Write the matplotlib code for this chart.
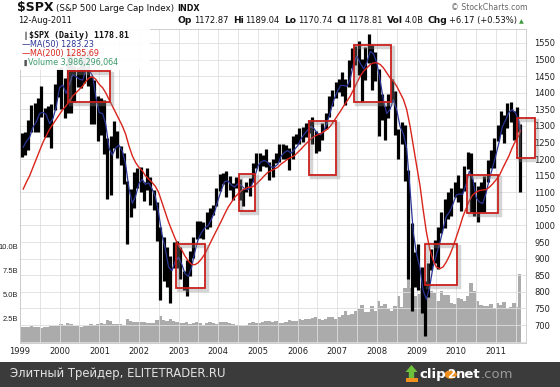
import numpy as np
import pandas as pd
import matplotlib
matplotlib.use('Agg')
import matplotlib.pyplot as plt
import matplotlib.dates as mdates
from matplotlib.patches import Rectangle, Polygon, Circle
import matplotlib.patheffects as pe

# ---------------- data (monthly) ----------------
months = pd.date_range('1999-01-01', '2011-08-01', freq='MS')

high = [1280, 1283, 1317, 1362, 1368, 1383, 1421, 1353, 1361, 1365, 1425, 1475,
        1478, 1444, 1553, 1527, 1481, 1478, 1518, 1525, 1530, 1450, 1439, 1390,
        1384, 1377, 1263, 1269, 1316, 1286, 1239, 1218, 1134, 1111, 1160, 1174,
        1176, 1131, 1173, 1147, 1107, 1070, 994, 965, 935, 907, 951, 954,
        935, 864, 895, 924, 965, 1015, 1015, 1011, 1040, 1053, 1063, 1112,
        1155, 1159, 1163, 1150, 1128, 1146, 1141, 1110, 1132, 1142, 1188, 1217,
        1217, 1212, 1229, 1191, 1199, 1219, 1246, 1245, 1243, 1233, 1270, 1275,
        1295, 1297, 1310, 1318, 1326, 1284, 1280, 1310, 1340, 1390, 1407, 1431,
        1441, 1461, 1440, 1498, 1535, 1540, 1556, 1503, 1538, 1576, 1545, 1523,
        1471, 1396, 1359, 1397, 1440, 1404, 1292, 1313, 1304, 1167, 1007, 919,
        943, 876, 832, 888, 930, 957, 996, 1040, 1080, 1102, 1113, 1130,
        1151, 1112, 1180, 1220, 1219, 1131, 1120, 1130, 1148, 1196, 1228, 1263,
        1302, 1344, 1333, 1370, 1371, 1346, 1356, 1307]

low = [1205, 1212, 1226, 1282, 1282, 1282, 1327, 1268, 1268, 1233, 1348, 1388,
       1350, 1325, 1339, 1340, 1373, 1418, 1414, 1430, 1419, 1305, 1306, 1254,
       1274, 1215, 1081, 1091, 1232, 1203, 1183, 1124, 945, 1026, 1054, 1114,
       1101, 1074, 1106, 1063, 1048, 952, 775, 833, 815, 768, 872, 872,
       840, 806, 789, 847, 902, 960, 962, 960, 990, 995, 1031, 1060,
       1105, 1124, 1087, 1107, 1076, 1113, 1078, 1060, 1101, 1090, 1130, 1173,
       1163, 1180, 1176, 1136, 1146, 1188, 1190, 1201, 1201, 1168, 1201, 1246,
       1245, 1253, 1268, 1280, 1245, 1219, 1224, 1259, 1290, 1327, 1360, 1385,
       1403, 1389, 1363, 1416, 1476, 1484, 1454, 1371, 1439, 1490, 1407, 1435,
       1270, 1317, 1257, 1324, 1373, 1273, 1200, 1247, 1133, 840, 741, 815,
       805, 735, 667, 784, 866, 888, 869, 978, 992, 1020, 1029, 1086,
       1071, 1045, 1105, 1170, 1041, 1028, 1011, 1040, 1040, 1131, 1174, 1173,
       1256, 1276, 1249, 1295, 1311, 1258, 1283, 1101]

ma50 = [1236, 1253, 1266, 1296, 1312, 1337, 1341, 1334, 1307, 1322, 1357, 1416,
        1423, 1398, 1425, 1454, 1449, 1441, 1438, 1470, 1468, 1450, 1385, 1340,
        1337, 1306, 1233, 1212, 1234, 1242, 1225, 1183, 1112, 1067, 1088, 1127,
        1139, 1124, 1128, 1111, 1087, 1038, 974, 929, 875, 864, 892, 904,
        882, 855, 847, 874, 922, 959, 979, 994, 1000, 1020, 1043, 1078,
        1109, 1133, 1134, 1122, 1116, 1126, 1121, 1110, 1108, 1119, 1144, 1180,
        1192, 1196, 1190, 1176, 1176, 1184, 1208, 1220, 1226, 1218, 1228, 1240,
        1261, 1274, 1286, 1298, 1292, 1278, 1273, 1286, 1311, 1346, 1379, 1403,
        1422, 1422, 1419, 1442, 1489, 1510, 1489, 1472, 1491, 1525, 1517, 1489,
        1435, 1378, 1337, 1350, 1379, 1349, 1299, 1276, 1233, 1110, 979, 913,
        871, 805, 778, 815, 876, 910, 946, 987, 1028, 1041, 1064, 1092,
        1095, 1094, 1124, 1163, 1144, 1085, 1071, 1066, 1096, 1139, 1174, 1212,
        1254, 1297, 1318, 1341, 1349, 1339, 1314, 1283]

ma200 = [1110, 1130, 1150, 1175, 1200, 1225, 1250, 1270, 1290, 1305, 1320, 1335,
         1350, 1360, 1375, 1390, 1400, 1410, 1420, 1435, 1445, 1448, 1440, 1425,
         1415, 1400, 1380, 1360, 1340, 1320, 1300, 1275, 1240, 1210, 1190, 1175,
         1165, 1150, 1140, 1130, 1118, 1100, 1070, 1040, 1010, 985, 960, 940,
         925, 908, 893, 883, 882, 888, 900, 915, 935, 955, 975, 995,
         1015, 1035, 1055, 1070, 1085, 1095, 1105, 1110, 1115, 1115, 1120, 1130,
         1140, 1150, 1160, 1165, 1170, 1175, 1185, 1192, 1200, 1205, 1210, 1220,
         1230, 1240, 1250, 1260, 1268, 1273, 1277, 1283, 1290, 1300, 1315, 1330,
         1345, 1360, 1375, 1390, 1410, 1430, 1450, 1465, 1475, 1485, 1490, 1490,
         1485, 1475, 1460, 1445, 1435, 1420, 1400, 1380, 1350, 1300, 1240, 1180,
         1120, 1050, 980, 930, 895, 875, 870, 875, 890, 910, 935, 965,
         995, 1025, 1050, 1075, 1092, 1100, 1105, 1107, 1108, 1115, 1125, 1137,
         1150, 1170, 1190, 1210, 1235, 1255, 1272, 1286]

vol_b = [1.70, 1.65, 1.70, 1.80, 1.70, 1.65, 1.60, 1.65, 1.70, 1.80, 1.75, 1.80,
         1.95, 1.90, 2.05, 1.95, 1.80, 1.75, 1.70, 1.75, 1.80, 1.95, 1.85, 1.95,
         2.05, 2.00, 2.35, 2.25, 2.00, 1.95, 1.95, 1.90, 2.45, 2.25, 2.20, 2.20,
         2.20, 2.15, 2.10, 2.10, 2.10, 2.35, 2.80, 2.35, 2.30, 2.50, 2.25, 2.15,
         2.10, 2.10, 2.20, 2.00, 2.10, 2.20, 2.10, 1.90, 2.10, 2.20, 2.10, 2.00,
         2.20, 2.15, 2.20, 2.05, 1.95, 1.90, 1.90, 1.75, 1.90, 2.10, 2.15, 2.10,
         2.10, 2.20, 2.25, 2.30, 2.15, 2.25, 2.10, 2.10, 2.20, 2.40, 2.30, 2.25,
         2.45, 2.40, 2.45, 2.50, 2.60, 2.70, 2.50, 2.40, 2.50, 2.70, 2.70, 2.50,
         2.70, 2.90, 3.30, 2.90, 3.05, 3.30, 3.50, 4.00, 3.20, 3.20, 3.90, 3.30,
         4.40, 3.90, 4.10, 3.50, 3.30, 3.90, 4.90, 3.80, 5.70, 6.70, 5.70, 4.90,
         5.10, 5.70, 6.30, 5.80, 5.40, 5.20, 4.40, 5.40, 5.00, 5.00, 4.20, 4.10,
         4.70, 4.60, 4.40, 4.90, 6.20, 5.40, 4.40, 4.00, 3.90, 3.90, 4.10, 3.60,
         4.20, 4.00, 4.30, 3.60, 3.80, 4.20, 3.70, 7.20]

# red boxes: start, end, low, high
boxes = [('2000-03-20', '2001-04-10', 1372, 1465),
         ('2002-12-10', '2003-09-01', 811, 944),
         ('2004-07-10', '2004-12-05', 1043, 1155),
         ('2006-04-15', '2006-12-20', 1152, 1315),
         ('2007-06-05', '2008-05-10', 1372, 1544),
         ('2009-03-15', '2010-01-08', 821, 944),
         ('2010-04-08', '2011-01-20', 1038, 1152),
         ('2011-07-12', '2011-12-25', 1203, 1324)]

price_ticks = list(range(700, 1551, 50))
vol_ticks = [2.5e9, 5.0e9, 7.5e9, 10.0e9]
vol_labels = ['2.5B', '5.0B', '7.5B', '10.0B']

# ---------------- layout ----------------
W, H = 560, 387
fig = plt.figure(figsize=(W / 100, H / 100), dpi=100)
fig.patch.set_facecolor('white')

def fx(x): return x / W
def fy(y): return 1 - y / H

rect = [fx(20), 44 / H, 506 / W, 314 / H]
x0, x1 = pd.Timestamp('1999-01-01'), pd.Timestamp('2011-10-04')

bar_x = list(months + pd.Timedelta(days=14))
bar_x[-1] = pd.Timestamp('2011-08-06')
ma_x = list(months + pd.offsets.MonthEnd(0))
ma_x[-1] = pd.Timestamp('2011-08-12')

# volume panel (underneath)
axv = fig.add_axes(rect, zorder=0)
axv.bar(bar_x, np.array(vol_b) * 1e9, width=31, color='#ababab', linewidth=0)
axv.set_xlim(x0, x1)
axv.set_ylim(0, 32.7e9)
axv.set_yticks(vol_ticks)
axv.set_yticklabels(vol_labels, fontfamily='Liberation Sans')
axv.tick_params(axis='y', length=0, pad=1.2, labelsize=5.4, colors='#222222')
axv.set_xticks([])
for s in axv.spines.values():
    s.set_visible(False)

# price panel (on top)
ax = fig.add_axes(rect, zorder=1)
ax.patch.set_alpha(0)
ax.set_xlim(x0, x1)
ax.set_ylim(646, 1592)
ax.vlines(bar_x, low, high, color='black', lw=2.3, zorder=3)
ax.plot(ma_x, ma50, color='#2a3595', lw=0.9, zorder=4)
ax.plot(ma_x, ma200, color='#d8241b', lw=1.0, zorder=5)

ax.yaxis.tick_right()
ax.set_yticks(price_ticks)
ax.set_yticks([650], minor=True)
ax.xaxis.set_major_locator(mdates.YearLocator())
ax.xaxis.set_major_formatter(mdates.DateFormatter('%Y'))
ax.xaxis.set_minor_locator(mdates.MonthLocator(bymonth=7))
ax.tick_params(which='both', length=0)
ax.tick_params(axis='y', pad=6, labelsize=6, colors='#222222')
ax.tick_params(axis='x', pad=3, labelsize=6, colors='#222222')
ax.grid(which='both', color='#dedede', lw=0.6, zorder=0)
for s in ax.spines.values():
    s.set_color('#c8c8c8')
    s.set_linewidth(0.6)

# legend background hides the data under it
ax.add_patch(Rectangle((0, 1 - 41 / 314), 130 / 506, 41 / 314, transform=ax.transAxes,
                       facecolor='white', edgecolor='none', alpha=0.93, zorder=5.5))

for start, end, lo, hi in boxes:
    s, e = mdates.date2num(pd.Timestamp(start)), mdates.date2num(pd.Timestamp(end))
    r = Rectangle((s, lo), e - s, hi - lo, fill=False, ec='#c8201c', lw=1.3,
                  clip_on=False, zorder=6,
                  path_effects=[pe.SimpleLineShadow(offset=(1.5, -1.5), shadow_color='#888888',
                                                    alpha=0.35, linewidth=2.5),
                                pe.Normal()])
    ax.add_patch(r)

# ---------------- texts ----------------
rend = fig.canvas.get_renderer()

def row(x, y, pieces, align='left'):
    ts, cur = [], 0
    for s, gap, kw in pieces:
        t = fig.text(fx(x + cur), fy(y), s, va='baseline', ha='left', zorder=5, **kw)
        cur += t.get_window_extent(rend).width + gap
        ts.append(t)
    if align == 'right':
        shift = cur - pieces[-1][1]
        for t in ts:
            px, py = t.get_position()
            t.set_position((px - shift / W, py))
    return ts

dk = '#111111'
row(17, 11, [('$SPX', 3, dict(fontsize=9, fontweight='bold', color=dk)),
             ('(S&P 500 Large Cap Index)', 3, dict(fontsize=6.3, color=dk)),
             ('INDX', 0, dict(fontsize=5.8, fontweight='bold', color=dk))])
fig.text(fx(528), fy(10), '© StockCharts.com', fontsize=5.6, color='#666666',
         ha='right', va='baseline')
fig.text(fx(18), fy(23), '12-Aug-2011', fontsize=6, color=dk, va='baseline')
b = dict(fontsize=6.6, fontweight='bold', color=dk)
n = dict(fontsize=6.0, color=dk)
row(524, 23, [('Op', 2, b), ('1172.87', 4, n), ('Hi', 2, b), ('1189.04', 4, n),
              ('Lo', 2, b), ('1170.74', 4, n), ('Cl', 2, b), ('1178.81', 4, n),
              ('Vol', 2, b), ('4.0B', 4, n), ('Chg', 2, b), ('+6.17 (+0.53%)', 2, n),
              ('▲', 0, dict(fontsize=4.5, color='#3a9a3a'))], align='right')

# legend block inside the plot
row(24, 38, [('\u2551', 1, dict(fontsize=5, color='#333333')),
             ('$SPX (Daily) 1178.81', 0, dict(fontsize=6, fontweight='bold',
                                             family='DejaVu Sans Mono', color=dk))])
row(22, 47, [('\u2014', 0, dict(fontsize=6, color='#2a3595')),
             ('MA(50) 1283.23', 0, dict(fontsize=5.8, color='#2a3595'))])
row(22, 56, [('\u2014', 0, dict(fontsize=6, color='#d8241b')),
             ('MA(200) 1285.69', 0, dict(fontsize=5.8, color='#d8241b'))])
row(22, 65, [('\u2590', 1, dict(fontsize=4.5, color='#555555')),
             ('Volume 3,986,296,064', 0, dict(fontsize=5.8, color='#3a9a6a'))])

# ---------------- footer ----------------
fig.add_artist(Rectangle((0, 0), 1, 25 / H, transform=fig.transFigure,
                         facecolor='#3b3b3b', edgecolor='none', zorder=0))
fig.text(fx(10), fy(374), 'Элитный Трейдер, ELITETRADER.RU', fontsize=8.4,
         color='#e2e2e2', va='center')

# clip2net logo
def pts(p): return [(fx(a), fy(c)) for a, c in p]
fig.add_artist(Polygon(pts([(411.5, 365), (417.5, 372), (414.2, 372), (414.2, 378),
                            (408.8, 378), (408.8, 372), (405.5, 372)]),
                       transform=fig.transFigure, facecolor='#6cc03a', edgecolor='none', zorder=2))
fig.add_artist(Rectangle((fx(405.5), fy(382)), 12 / W, 4 / H, transform=fig.transFigure,
                         facecolor='#f0901e', edgecolor='none', zorder=2))
lg = row(419, 378, [('clip', 1, dict(fontsize=9.5, fontweight='bold', color='white')),
                    ('2', 1, dict(fontsize=8.5, fontweight='bold', color='white')),
                    ('net', 0, dict(fontsize=9.5, fontweight='bold', color='white')),
                    ('.com', 0, dict(fontsize=9.5, color='#9a9a9a'))])
bb = lg[1].get_window_extent(rend)
cx, cy = (bb.x0 + bb.x1) / 2, (bb.y0 + bb.y1) / 2
fig.add_artist(Circle((cx / W, cy / H), 6.2 / W, transform=fig.transFigure,
                      facecolor='#f0901e', edgecolor='none', zorder=2))
for t in lg:
    t.set_zorder(3)

fig.savefig('out.png', dpi=100)
